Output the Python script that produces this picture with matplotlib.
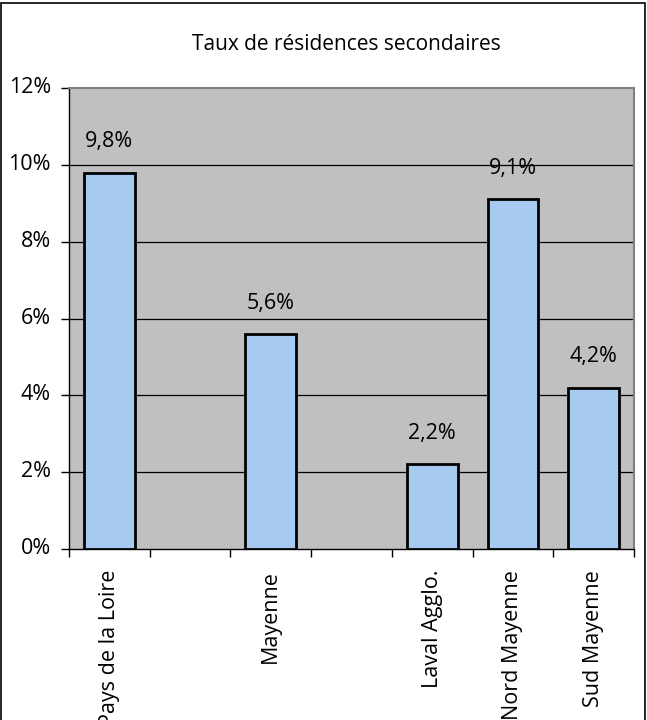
import matplotlib.pyplot as plt
import matplotlib.transforms as mtransforms
from matplotlib.patches import Rectangle

plt.rcParams['font.family'] = ['Open Sans', 'DejaVu Sans']

# Empty slots keep the gaps between the regional groups
categories = ['Pays de la Loire', '', 'Mayenne', '', 'Laval Agglo.', 'Nord Mayenne', 'Sud Mayenne']
values = [9.8, None, 5.6, None, 2.2, 9.1, 4.2]
value_labels = ['9,8%', '', '5,6%', '', '2,2%', '9,1%', '4,2%']
y_ticks = [0, 2, 4, 6, 8, 10, 12]

fs = 15.5

fig = plt.figure(figsize=(6.47, 7.2), dpi=100)
ax = fig.add_axes([69 / 647, 1 - 549 / 720, 565 / 647, 461 / 720])
ax.set_facecolor('#c0c0c0')

for i, (v, lab) in enumerate(zip(values, value_labels)):
    if v is None:
        continue
    ax.bar(i, v, width=0.63, color='#a6caf0', edgecolor='black', linewidth=2, zorder=3)
    ax.text(i, v + 0.8, lab, ha='center', va='center', fontsize=fs, zorder=4)

ax.set_xlim(-0.5, len(categories) - 0.5)
ax.set_ylim(0, 12)
ax.set_yticks(y_ticks)
ax.set_yticklabels([f'{t}%' for t in y_ticks], fontsize=fs)
for t in y_ticks[1:-1]:
    ax.axhline(t, color='black', linewidth=0.9, zorder=1)

ax.set_xticks([i - 0.5 for i in range(len(categories) + 1)], minor=False)
ax.set_xticklabels([])
ax.set_xticks(range(len(categories)), minor=True)
ax.set_xticklabels(categories, minor=True, rotation=90, fontsize=fs, va='top', ha='center')
ax.tick_params(axis='x', which='minor', length=0, pad=15)
ax.tick_params(axis='x', which='major', length=6, width=1, color='black')
ax.tick_params(axis='y', length=6, width=1, pad=7)

# percent labels sit a little above their gridline
shift = mtransforms.ScaledTranslation(0, 3 / 100, fig.dpi_scale_trans)
for lbl in ax.get_yticklabels():
    lbl.set_transform(lbl.get_transform() + shift)

for side in ['top', 'right']:
    ax.spines[side].set_color('#808080')
    ax.spines[side].set_linewidth(1.5)
for side in ['left', 'bottom']:
    ax.spines[side].set_color('black')
    ax.spines[side].set_linewidth(1)

fig.text(346 / 647, 1 - 45 / 720, 'Taux de résidences secondaires', ha='center', va='center', fontsize=15)

# outer frame around the whole chart
fig.patches.append(Rectangle((0.002, -0.01), 0.995, 1.006, transform=fig.transFigure,
                             fill=False, edgecolor='black', linewidth=1.2))

fig.savefig('out.png', dpi=100, facecolor='white')
